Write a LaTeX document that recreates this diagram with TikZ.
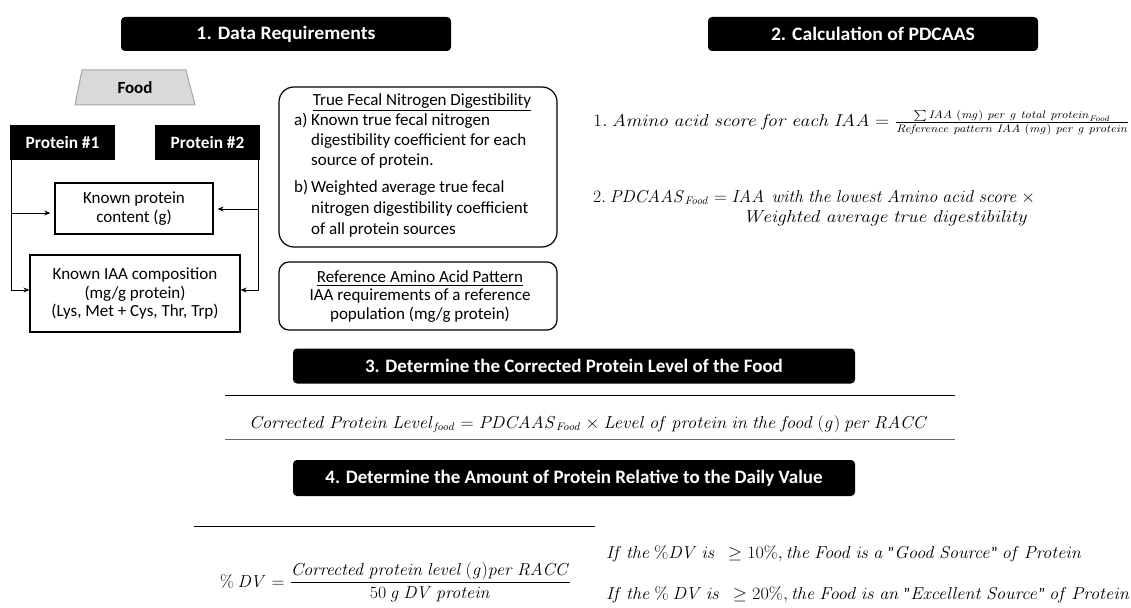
\documentclass[tikz,border=0pt]{standalone}
\usepackage{amsmath}
\usepackage{graphicx}
\usepackage[no-math]{fontspec}
\setmainfont{Carlito}
\usetikzlibrary{calc,arrows.meta}
\begin{document}
\begin{tikzpicture}[x=1pt,y=-1pt,
  hdr/.style={fill=black,rounded corners=4pt,text=white,font=\bfseries\fontsize{19}{22}\selectfont,inner sep=0pt},
  pbox/.style={fill=black,text=white,font=\bfseries\fontsize{17.3}{20}\selectfont,inner sep=0pt,minimum width=105pt,minimum height=35pt},
  wbox/.style={draw=black,line width=1.2pt,align=center,inner sep=0pt,font=\fontsize{17}{18.5}\selectfont},
  rbox/.style={draw=black,line width=1.2pt,rounded corners=15pt,inner sep=0pt},
  txt/.style={font=\fontsize{17}{20}\selectfont,inner sep=0pt},
  arr/.style={line width=0.9pt,-{Stealth[length=6pt,width=5pt]}},
  ln/.style={line width=1pt},
  eq/.style={inner sep=0pt,font=\fontsize{16}{19}\selectfont}]

\useasboundingbox (0,0) rectangle (1131,607);

% headers
\node[hdr,minimum width=330pt,minimum height=34pt] (h1) at (286,34) {\resizebox{179pt}{\height}{1. Data Requirements}};
\node[hdr,minimum width=330pt,minimum height=34pt] (h2) at (873,34) {\resizebox{204pt}{\height}{2. Calculation of PDCAAS}};
\node[hdr,minimum width=562pt,minimum height=35pt] (h3) at (574,366) {3. Determine the Corrected Protein Level of the Food};
\node[hdr,minimum width=562pt,minimum height=36pt] (h4) at (574,478) {4. Determine the Amount of Protein Relative to the Daily Value};

% food
\draw[fill=black!15,draw=black!35,line width=1pt] (82,70) -- (186,70) -- (195,105) -- (75,105) -- cycle;
\node[font=\bfseries\fontsize{17}{20}\selectfont,inner sep=0pt] (food) at (135,88) {Food};

% proteins
\node[pbox] (p1) at (62.5,142.5) {Protein \#1};
\node[pbox] (p2) at (207.5,142.5) {Protein \#2};

\node[wbox,minimum width=158pt,minimum height=51pt] (kpc) at (134,208.5) {Known protein\\content (g)};
\node[wbox,minimum width=210pt,minimum height=77pt] (iaa) at (135,293.5) {Known IAA composition\\(mg/g protein)\\(Lys, Met + Cys, Thr, Trp)};

\coordinate (l0) at ([xshift=2pt]p1.south west);
\coordinate (r0) at ([xshift=-2pt]p2.south east);
\draw[arr] (l0) |- ($(iaa.west)+(0,-3.5)$);
\draw[arr] (l0 |- 0,213) -- ([xshift=-4pt]kpc.west |- 0,213);
\draw[arr] (r0) |- ($(iaa.east)+(0,-3.5)$);
\draw[arr] (r0 |- 0,209) -- ([xshift=4pt]kpc.east |- 0,209);

% digestibility box
\node[rbox,minimum width=278pt,minimum height=160pt] (tfn) at (418,167) {};
\node[txt,anchor=mid] (tfnt) at (422,103) {\underline{True Fecal Nitrogen Digestibility}};
\node[txt,anchor=mid west] (ta) at (294,123) {a)};
\node[txt,anchor=mid west] (ta1) at (311,123) {Known true fecal nitrogen};
\node[txt,anchor=mid west] (ta2) at (311,143) {digestibility coefficient for each};
\node[txt,anchor=mid west] (ta3) at (311,163) {source of protein.};
\node[txt,anchor=mid west] (tb) at (294,190) {b)};
\node[txt,anchor=mid west] (tb1) at (311,190) {Weighted average true fecal};
\node[txt,anchor=mid west] (tb2) at (311,211) {nitrogen digestibility coefficient};
\node[txt,anchor=mid west] (tb3) at (311,232) {of all protein sources};

% reference pattern box
\node[rbox,rounded corners=10pt,minimum width=278pt,minimum height=68pt] (rap) at (418,296) {};
\node[txt,anchor=mid] (rapt) at (420,280) {\underline{Reference Amino Acid Pattern}};
\node[txt,anchor=mid] (rap1) at (420,298) {IAA requirements of a reference};
\node[txt,anchor=mid] (rap2) at (420,317) {population (mg/g protein)};

% equations part 2
\node[eq,anchor=base west] (e1) at (593,127) {\resizebox{536pt}{\height}{$1.\ \mathit{Amino\ acid\ score\ for\ each\ IAA} = \frac{\sum \mathit{IAA\ (mg)\ per\ g\ total\ protein}_{\mathit{Food}}}{\mathit{Reference\ pattern\ IAA\ (mg)\ per\ g\ protein}}$}};
\node[eq,anchor=base west] (e2a) at (593,202) {\resizebox{442pt}{\height}{$2.\ \mathit{PDCAAS}_{\mathit{Food}} = \mathit{IAA\ \ with\ the\ lowest\ Amino\ acid\ score}\ \times$}};
\node[eq,anchor=base west] (e2b) at (743,222) {\resizebox{285pt}{\height}{$\mathit{Weighted\ average\ true\ digestibility}$}};

% part 3
\draw[ln] (225,395) -- (955,395);
\node[eq,anchor=base west] (e3) at (249,428) {\resizebox{679pt}{\height}{$\mathit{Corrected\ Protein\ Level}_{\mathit{food}} = \mathit{PDCAAS}_{\mathit{Food}} \times \mathit{Level\ of\ protein\ in\ the\ food\ (g)\ per\ RACC}$}};
\draw[ln,black!60] (225,439) -- (955,439);

% part 4
\draw[ln] (194,526) -- (595,526);
\node[eq,anchor=base west] (e4) at (220,587) {\resizebox{351pt}{\height}{$\%\ \mathit{DV} = \dfrac{\mathit{Corrected\ protein\ level\ (g)per\ RACC}}{50\ \mathit{g\ DV\ protein}}$}};
\node[eq,anchor=base west] (g1) at (606,558) {\resizebox{476pt}{\height}{$\mathit{If\ the}\ \%\mathit{DV\ is}\ \ \geq 10\%, \mathit{the\ Food\ is\ a}\ \textnormal{"}\mathit{Good\ Source}\textnormal{"}\ \mathit{of\ Protein}$}};
\node[eq,anchor=base west] (g2) at (606,599) {\resizebox{524pt}{\height}{$\mathit{If\ the}\ \%\ \mathit{DV\ is}\ \ \geq 20\%, \mathit{the\ Food\ is\ an}\ \textnormal{"}\mathit{Excellent\ Source}\textnormal{"}\ \mathit{of\ Protein}$}};
\end{tikzpicture}
\end{document}
